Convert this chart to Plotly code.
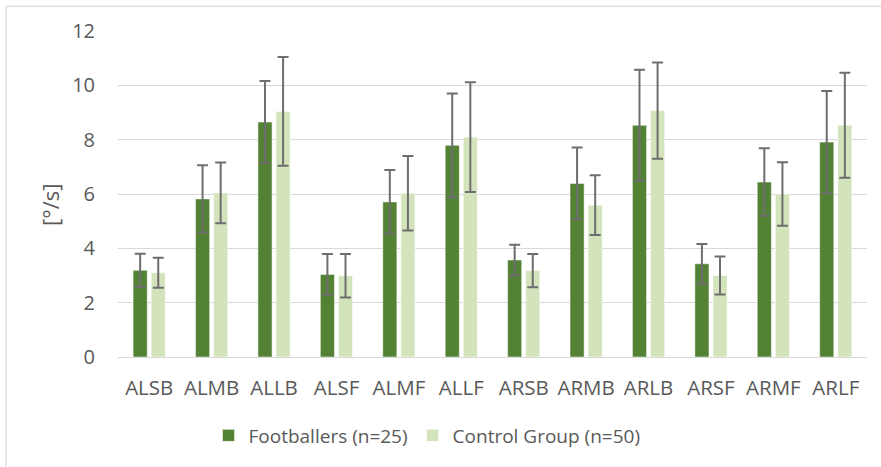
import plotly.graph_objects as go

categories = ["ALSB", "ALMB", "ALLB", "ALSF", "ALMF", "ALLF",
              "ARSB", "ARMB", "ARLB", "ARSF", "ARMF", "ARLF"]

footballers_mean = [3.19, 5.82, 8.65, 3.04, 5.71, 7.79, 3.57, 6.39, 8.53, 3.43, 6.44, 7.91]
footballers_sd = [0.61, 1.24, 1.51, 0.75, 1.17, 1.91, 0.56, 1.32, 2.04, 0.73, 1.24, 1.88]

control_mean = [3.10, 6.04, 9.04, 2.99, 6.03, 8.09, 3.18, 5.59, 9.07, 3.00, 6.00, 8.53]
control_sd = [0.55, 1.12, 2.00, 0.80, 1.37, 2.02, 0.61, 1.10, 1.77, 0.70, 1.17, 1.93]

y_ticks = [0, 2, 4, 6, 8, 10, 12]

FONT = "Open Sans"
FS = 19
TEXT = "#595959"
ERR = "#6e6e6e"

# figure geometry (pixels)
W, H = 881, 467
L, R, T, B = 118, 14, 31, 108
pw, ph = W - L - R, H - T - B


def px_x(x):
    return (x - L) / pw


def px_y(y):
    return (H - B - y) / ph


fig = go.Figure()
fig.add_trace(go.Bar(
    x=categories, y=footballers_mean, name="Footballers (n=25)",
    marker=dict(color="#548235", line=dict(color="white", width=0.5)),
    error_y=dict(type="data", array=footballers_sd, color=ERR, thickness=2, width=5.5),
))
fig.add_trace(go.Bar(
    x=categories, y=control_mean, name="Control Group (n=50)",
    marker=dict(color="#d3e4bc", line=dict(color="white", width=0.5)),
    error_y=dict(type="data", array=control_sd, color=ERR, thickness=2, width=5.5),
))

fig.update_layout(
    width=W, height=H,
    margin=dict(l=L, r=R, t=T, b=B, pad=0),
    paper_bgcolor="white", plot_bgcolor="white",
    barmode="group", bargap=0.42, bargroupgap=0.22,
    font=dict(family=FONT, size=FS, color=TEXT),
    showlegend=True,
    legend=dict(orientation="h", x=px_x(427), xanchor="center",
                y=px_y(438), yanchor="middle",
                font=dict(family=FONT, size=FS, color=TEXT),
                itemwidth=30, traceorder="normal"),
    xaxis=dict(showgrid=False, showline=False, ticks="",
               ticklabelstandoff=16,
               tickfont=dict(family=FONT, size=20.5, color=TEXT)),
    yaxis=dict(range=[0, 12], tickvals=y_ticks, showgrid=True,
               gridcolor="#d9d9d9", gridwidth=1, zeroline=True,
               zerolinecolor="#d9d9d9", zerolinewidth=1, showline=False,
               ticks="", ticklabelstandoff=22,
               tickfont=dict(family=FONT, size=20, color=TEXT)),
    annotations=[dict(
        text="[°/s]", x=px_x(50), y=px_y(206), xref="paper", yref="paper",
        textangle=-90, showarrow=False, xanchor="center", yanchor="middle",
        font=dict(family=FONT, size=22, color=TEXT),
    )],
    shapes=[
        dict(type="line", xref="paper", yref="paper",
             x0=px_x(6), x1=px_x(W + 2), y0=px_y(6), y1=px_y(6),
             line=dict(color="#e0e0e0", width=1.5)),
        dict(type="line", xref="paper", yref="paper",
             x0=px_x(6), x1=px_x(6), y0=px_y(6), y1=px_y(H + 2),
             line=dict(color="#e0e0e0", width=1.5)),
    ],
)

fig.write_html("out.html")
